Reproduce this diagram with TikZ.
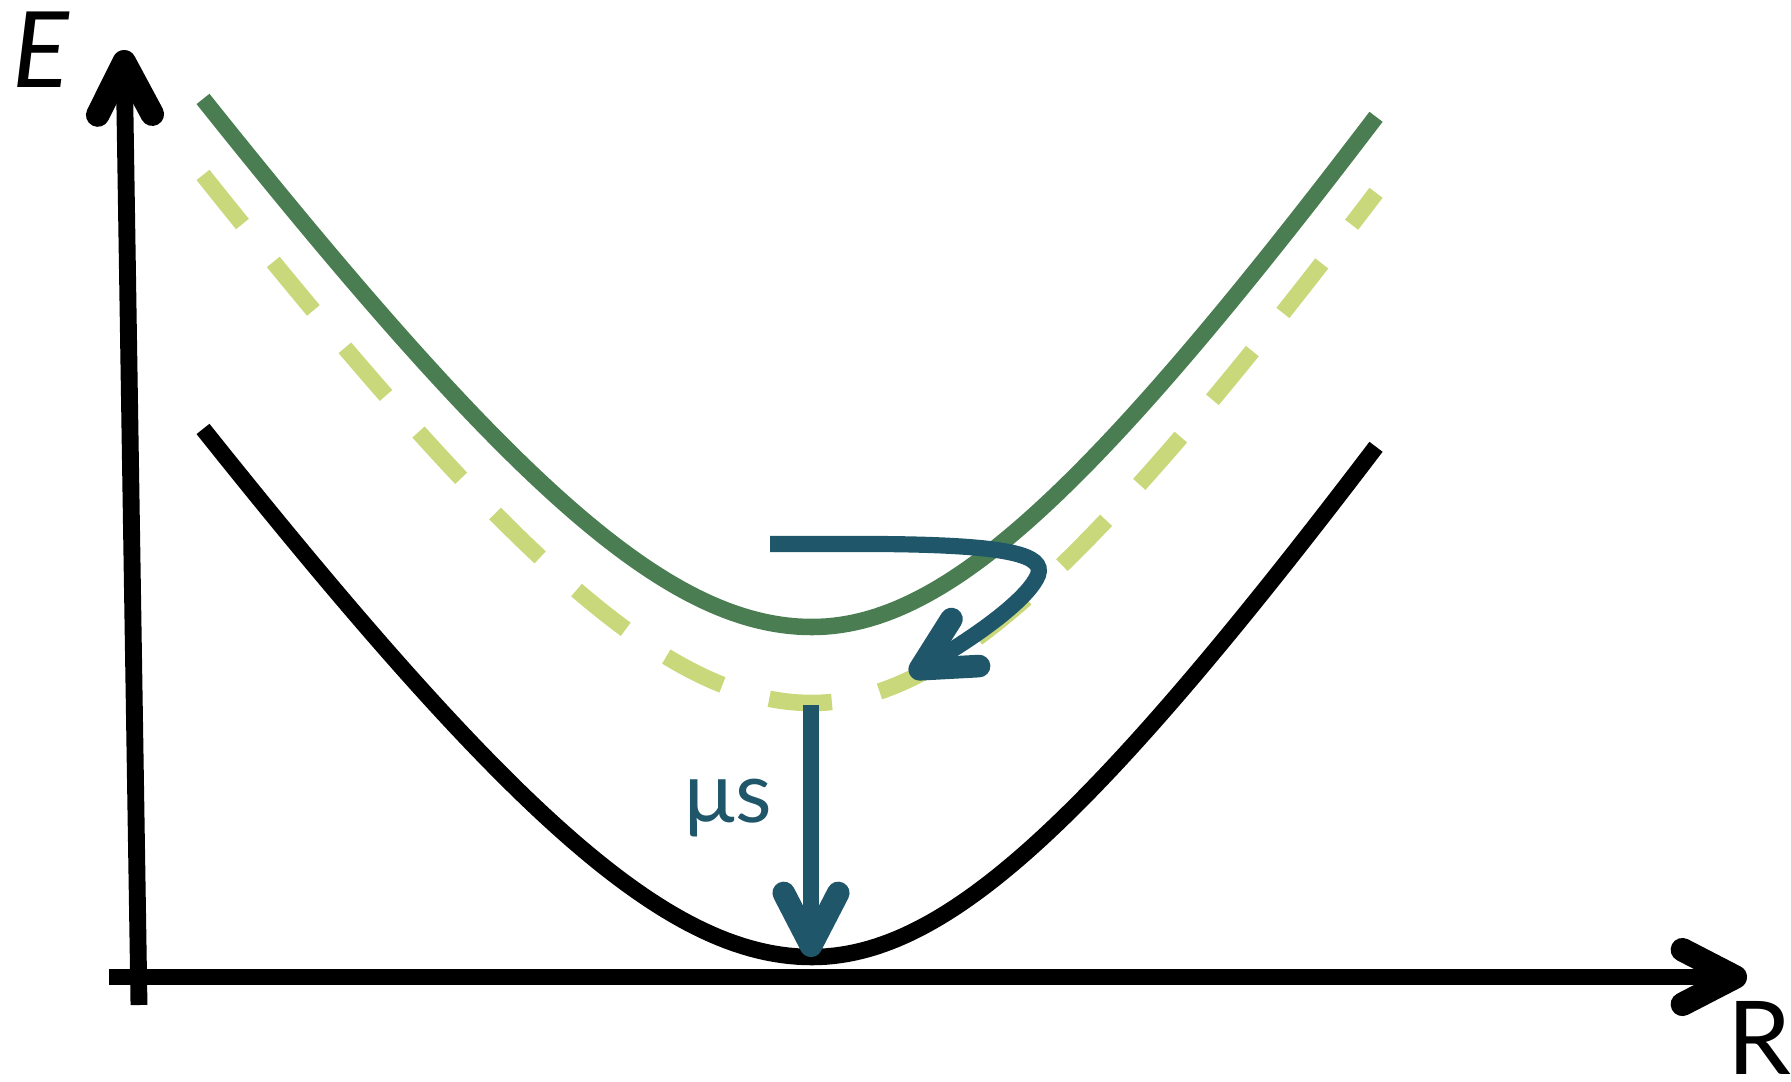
\documentclass[tikz,border=0pt]{standalone}
\usepackage{fontspec}
\setmainfont{Lato}
\usetikzlibrary{arrows.meta}
\definecolor{pesgreen}{HTML}{4A7E52}
\definecolor{peslight}{HTML}{C9D87A}
\definecolor{pesteal}{HTML}{20566A}
\begin{document}
\begin{tikzpicture}[x=0.01cm,y=-0.01cm,
  barbtip/.tip={Straight Barb[length=15pt,width=15.5pt,round,line width=0pt 1.4]},
  axisline/.style={line width=4.8pt,-barbtip},
  curveline/.style={line width=4.7pt},
  tealarrow/.style={pesteal,line width=4.6pt,-barbtip},
  lbl/.style={inner sep=0pt,anchor=base west}]
\useasboundingbox (0,0) rectangle (1791,1081);
% potential curves (same shape, shifted vertically)
\draw[curveline,peslight,dash pattern=on 17.9pt off 13.9pt,shift={(812,703)}]
  plot[domain=-609:0,samples=80] (\x,{-100*(sqrt(18.0625+(0.014*\x)^2)-4.25)})
  -- plot[domain=0:564,samples=80] (\x,{-100*(sqrt(18.0625+(0.01477*\x)^2)-4.25)});
\draw[curveline,pesgreen,shift={(812,627)}]
  plot[domain=-609:0,samples=80] (\x,{-100*(sqrt(18.0625+(0.014*\x)^2)-4.25)})
  -- plot[domain=0:564,samples=80] (\x,{-100*(sqrt(18.0625+(0.01477*\x)^2)-4.25)});
\draw[curveline,black,shift={(812,957)}]
  plot[domain=-609:0,samples=80] (\x,{-100*(sqrt(18.0625+(0.014*\x)^2)-4.25)})
  -- plot[domain=0:564,samples=80] (\x,{-100*(sqrt(18.0625+(0.01477*\x)^2)-4.25)});
% axes
\coordinate (ybot) at (139,1005);
\coordinate (ytop) at (124,50);
\coordinate (xleft) at (109,977);
\coordinate (xright) at (1747,977);
\draw[axisline] (ybot) -- (ytop);
\draw[axisline] (xleft) -- (xright);
\node[lbl,font=\fontsize{30}{36}\selectfont\itshape] (E) at (12,87) {E};
\node[lbl,font=\fontsize{29}{35}\selectfont] (R) at (1727,1074) {R};
% teal arrows
\coordinate (hs) at (770,544);
\coordinate (hm) at (880,544);
\coordinate (hr) at (1038,575);
\coordinate (htip) at (910,675);
\draw[tealarrow] (hs) -- (hm) .. controls (1010,545) and (1045,555) .. (hr)
  .. controls (1030,595) and (990,628) .. (htip);
\coordinate (vs) at (811,705);
\coordinate (vtip) at (811,957);
\draw[tealarrow] (vs) -- (vtip);
\node[lbl,text=pesteal,font=\fontsize{24}{29}\selectfont] (mus) at (684,822) {μs};
\end{tikzpicture}
\end{document}
